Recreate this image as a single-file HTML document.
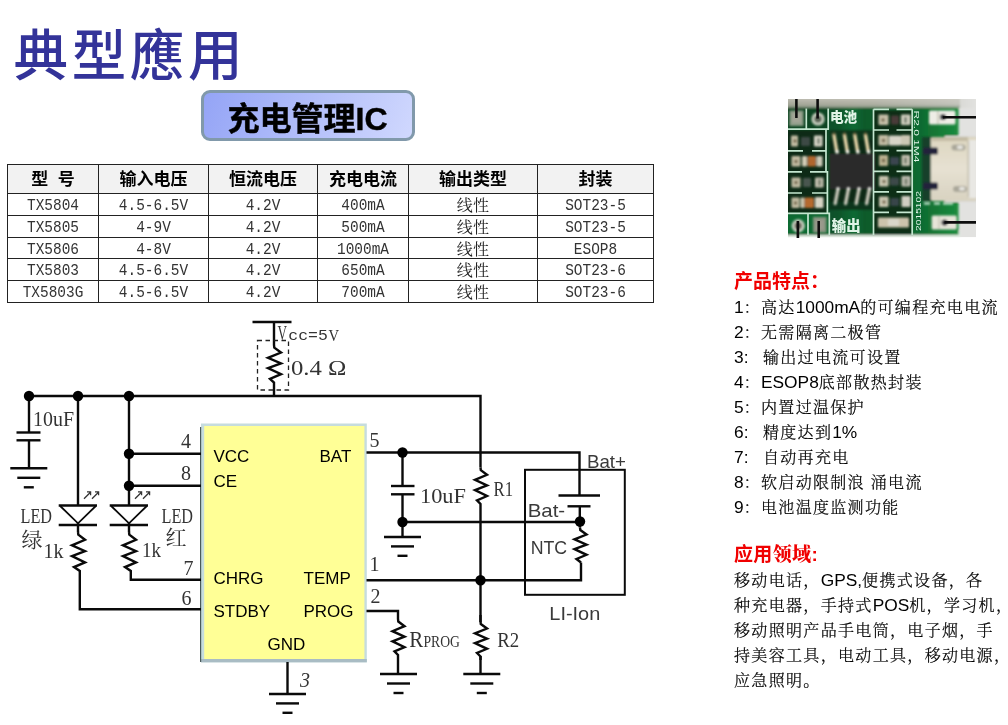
<!DOCTYPE html>
<html lang="zh">
<head>
<meta charset="utf-8">
<title>典型應用 - 充电管理IC</title>
<style>
html,body{margin:0;padding:0;background:#fff;}
body{width:1008px;height:725px;position:relative;overflow:hidden;font-family:"Liberation Sans","Noto Sans CJK SC",sans-serif;color:#000;}
.abs{position:absolute;white-space:nowrap;}
body>*{will-change:opacity;}
#title{left:13.6px;top:17.2px;font-size:54.5px;line-height:80px;color:#333399;font-family:"Liberation Sans","Noto Sans CJK TC","Noto Sans CJK SC",sans-serif;font-weight:500;letter-spacing:3.6px;}
#badge{left:200.5px;top:89.5px;width:208px;height:45px;border:3px solid #8199ab;border-radius:9px;background:linear-gradient(112deg,#94a4f6 0%,#b2bef9 50%,#d0d8fe 100%);-webkit-text-stroke:0.45px #000;text-align:center;font-weight:700;font-size:32px;line-height:53px;color:#000;font-family:"Liberation Sans","Noto Sans CJK SC",sans-serif;}
table#spec{position:absolute;left:7px;top:164px;border-collapse:collapse;table-layout:fixed;width:647px;font-family:"Liberation Serif","Noto Serif CJK SC",serif;}
#spec td,#spec th{border:1px solid #222;padding:0;text-align:center;overflow:hidden;white-space:nowrap;}
#spec th{height:28px;background:#f2f2f2;font-family:"Liberation Sans","Noto Sans CJK SC",sans-serif;font-weight:700;font-size:17px;line-height:28px;}
#spec td{height:20.75px;font-size:17.3px;line-height:20px;color:#222;font-weight:400;vertical-align:top;}
#spec .m{display:block;height:20px;font-family:"Liberation Mono",monospace;font-size:14.45px;line-height:20px;transform:translateY(1.2px) scaleY(1.2);color:#333;}
#spec .c{display:block;height:20px;font-size:16px;line-height:20px;transform:translateY(2.2px);letter-spacing:0.3px;}
#spec th span{position:relative;top:1px;}
.sec{color:#f00000;font-weight:700;font-size:19px;line-height:24px;font-family:"Liberation Sans","Noto Sans CJK SC",sans-serif;}
.li{font-size:16px;letter-spacing:1.33px;line-height:25px;font-weight:300;-webkit-text-stroke:0.22px #000;margin-top:-0.6px;font-family:"Liberation Sans","Noto Serif CJK SC",serif;color:#000;left:734px;}
.li.p{font-size:16px;letter-spacing:1.33px;}
.li .l{font-size:17.33px;letter-spacing:0;font-weight:400;-webkit-text-stroke:0;}
.li.p .l{font-size:17.33px;}
.ck{font-family:"Liberation Serif","Noto Serif CJK SC",serif;fill:#333;}
.sa{font-family:"Liberation Sans",sans-serif;fill:#000;}
.ts{font-family:"Liberation Sans",sans-serif;fill:#3a3a3a;}
</style>
</head>
<body>
<div id="title" class="abs">典型應用</div>
<div id="badge" class="abs">充电管理IC</div>

<table id="spec">
<colgroup><col style="width:91px"><col style="width:110px"><col style="width:109px"><col style="width:91px"><col style="width:129px"><col style="width:116px"></colgroup>
<tr><th><span>型&nbsp;&nbsp;号</span></th><th><span>输入电压</span></th><th><span>恒流电压</span></th><th><span>充电电流</span></th><th><span>输出类型</span></th><th><span>封装</span></th></tr>
<tr><td><span class="m">TX5804</span></td><td><span class="m">4.5-6.5V</span></td><td><span class="m">4.2V</span></td><td><span class="m">400mA</span></td><td><span class="c">线性</span></td><td><span class="m">SOT23-5</span></td></tr>
<tr><td><span class="m">TX5805</span></td><td><span class="m">4-9V</span></td><td><span class="m">4.2V</span></td><td><span class="m">500mA</span></td><td><span class="c">线性</span></td><td><span class="m">SOT23-5</span></td></tr>
<tr><td><span class="m">TX5806</span></td><td><span class="m">4-8V</span></td><td><span class="m">4.2V</span></td><td><span class="m">1000mA</span></td><td><span class="c">线性</span></td><td><span class="m">ESOP8</span></td></tr>
<tr><td><span class="m">TX5803</span></td><td><span class="m">4.5-6.5V</span></td><td><span class="m">4.2V</span></td><td><span class="m">650mA</span></td><td><span class="c">线性</span></td><td><span class="m">SOT23-6</span></td></tr>
<tr><td><span class="m">TX5803G</span></td><td><span class="m">4.5-6.5V</span></td><td><span class="m">4.2V</span></td><td><span class="m">700mA</span></td><td><span class="c">线性</span></td><td><span class="m">SOT23-6</span></td></tr>
</table>

<svg class="abs" style="left:788px;top:99px" width="188" height="139" viewBox="788 99 188 139">
<defs>
<filter id="bl" x="-5%" y="-5%" width="110%" height="110%"><feGaussianBlur stdDeviation="0.8"/></filter>
<filter id="bl2" x="-5%" y="-5%" width="110%" height="110%"><feGaussianBlur stdDeviation="0.6"/></filter>
<linearGradient id="gtop" x1="0" y1="0" x2="1" y2="0"><stop offset="0" stop-color="#a6a799"/><stop offset="0.45" stop-color="#b3b4a8"/><stop offset="0.8" stop-color="#d0d0ca"/><stop offset="1" stop-color="#e4e4e2"/></linearGradient>
<linearGradient id="ggreen" x1="0" y1="0" x2="1" y2="0"><stop offset="0" stop-color="#0a4a24"/><stop offset="0.3" stop-color="#0a522a"/><stop offset="0.4" stop-color="#0e6a32"/><stop offset="0.46" stop-color="#0a5a2c"/><stop offset="0.78" stop-color="#0f6a30"/><stop offset="1" stop-color="#1b8c3e"/></linearGradient>
<linearGradient id="gusb" x1="0" y1="0" x2="0" y2="1"><stop offset="0" stop-color="#ddd6c0"/><stop offset="0.5" stop-color="#e6e1d2"/><stop offset="1" stop-color="#d8d2c0"/></linearGradient>
<linearGradient id="gtop2" x1="0" y1="0" x2="0" y2="1"><stop offset="0.3" stop-color="#c8c6bc" stop-opacity="0.7"/><stop offset="0.7" stop-color="#a8aa9c" stop-opacity="0.4"/><stop offset="1" stop-color="#6a8068" stop-opacity="0.7"/></linearGradient>
<clipPath id="cp"><rect x="788" y="99" width="188" height="138.3"/></clipPath>
</defs>
<g clip-path="url(#cp)">
<rect x="788" y="99" width="188" height="138.3" fill="#e2e2e0"/>
<g filter="url(#bl)">
<rect x="784" y="95" width="196" height="13" fill="url(#gtop)"/>
<rect x="784" y="95" width="176" height="13" fill="url(#gtop2)"/>
<rect x="784" y="231.5" width="176" height="10" fill="#e3ece3"/>
<rect x="784" y="107.8" width="174.5" height="127" fill="url(#ggreen)"/>
<rect x="945" y="136" width="40" height="66" fill="#dcdcda"/>
<rect x="784" y="130" width="43" height="83" fill="#072c17"/>
<rect x="784" y="109" width="44" height="20" fill="#0c4520"/>
<rect x="784" y="214" width="45" height="21" fill="#116a30"/>
<rect x="873" y="110" width="39" height="124.5" fill="#082f18"/>
<rect x="829" y="130" width="44" height="80" fill="#0a351a"/><rect x="829" y="140" width="45" height="62" fill="#0b2a18"/>
<rect x="829.5" y="154" width="45.5" height="35" fill="#2a2a2c"/>
</g>
<g filter="url(#bl2)" stroke="#c4e6d0" stroke-width="1.7" fill="none">
<path d="M788,129.2 H828.2 V108.5 M806.3,108.5 V129"/>
<path d="M826,129.2 V171 M827.4,171 V213.2"/>
<path d="M788,150.8 H803 M812,150.8 H826"/>
<path d="M788,171.8 H802 M810,171.8 H827"/>
<path d="M788,193 H802 M812,193 H827"/>
<path d="M788,213.4 H829.3 V235 M808,213.4 V235"/>
<path d="M873.5,109.3 V235 M912.2,109.3 V235 M873.5,109.3 H889 M896.5,109.3 H912.2"/>
<path d="M873,130.0 H889 M896.5,130.0 H912.2"/>
<path d="M873,150.7 H889 M896.5,150.7 H912.2"/>
<path d="M873,171.3 H889 M896.5,171.3 H912.2"/>
<path d="M873,191.8 H889 M896.5,191.8 H912.2"/>
<path d="M873,212.3 H889 M896.5,212.3 H912.2"/>
</g>
<g filter="url(#bl)">
<rect x="789.5" y="110.5" width="14" height="15.5" fill="#8c9b86"/>
<rect x="792" y="113" width="9" height="10" fill="#a3a596"/>
<circle cx="818" cy="119" r="5.2" fill="#5a6454" stroke="#c9d1c1" stroke-width="2.8"/>
<circle cx="798.2" cy="225.8" r="5.2" fill="#6a6458" stroke="#c9d1c1" stroke-width="2.8"/>
<rect x="813" y="217" width="13.5" height="15.7" fill="#86937f"/>
<rect x="815.5" y="219.5" width="8.5" height="10.5" fill="#9a9a8c"/>
<rect x="791.0" y="135.5" width="7.0" height="11.0" rx="1" fill="#c3bda4"/>
<rect x="801.0" y="137.0" width="9.0" height="9.0" rx="1" fill="#3c4a44"/>
<rect x="814.0" y="135.5" width="8.5" height="11.0" rx="1" fill="#d8d6c8"/>
<rect x="791.5" y="156.0" width="9.0" height="10.5" rx="1" fill="#c2bba2"/>
<rect x="802.0" y="156.0" width="5.0" height="10.5" rx="1" fill="#d1cbb5"/>
<rect x="807.5" y="156.0" width="8.5" height="10.5" rx="1" fill="#b0662f"/>
<rect x="816.5" y="156.0" width="6.0" height="10.5" rx="1" fill="#cfcbba"/>
<rect x="791.5" y="177.5" width="9.0" height="10.0" rx="1" fill="#c0baa2"/>
<rect x="803.0" y="178.0" width="8.0" height="9.0" rx="1" fill="#4a5650"/>
<rect x="815.0" y="177.5" width="8.5" height="10.0" rx="1" fill="#c6c3b2"/>
<rect x="791.5" y="197.5" width="8.0" height="10.5" rx="1" fill="#c2bba2"/>
<rect x="800.5" y="197.5" width="4.0" height="10.5" rx="1" fill="#d0c9b2"/>
<rect x="804.5" y="197.5" width="9.5" height="10.5" rx="1" fill="#b5692d"/>
<rect x="815.0" y="197.0" width="8.5" height="11.0" rx="1" fill="#d8d4c5"/>
<rect x="878.5" y="114.5" width="10.0" height="10.5" rx="1" fill="#c6c0a9"/>
<rect x="891.0" y="115.5" width="8.0" height="9.0" rx="1" fill="#4a3a38"/>
<rect x="901.0" y="114.5" width="9.5" height="10.5" rx="1" fill="#d1cfc0"/>
<rect x="878.5" y="135.0" width="10.0" height="10.5" rx="1" fill="#c3bda5"/>
<rect x="889.0" y="135.5" width="12.0" height="10.0" rx="1" fill="#d7d4c7"/>
<rect x="901.0" y="135.0" width="9.5" height="10.5" rx="1" fill="#cbc7b4"/>
<rect x="879.0" y="155.0" width="9.0" height="11.0" rx="1" fill="#bab190"/>
<rect x="890.0" y="157.0" width="9.0" height="8.0" rx="1" fill="#3a4450"/>
<rect x="901.5" y="155.0" width="8.5" height="11.0" rx="1" fill="#c6c3b2"/>
<rect x="879.0" y="176.0" width="9.5" height="10.5" rx="1" fill="#c9c6b1"/>
<rect x="890.0" y="177.5" width="9.0" height="8.0" rx="1" fill="#3d4a4a"/>
<rect x="901.5" y="176.0" width="9.0" height="10.5" rx="1" fill="#c0c0b2"/>
<rect x="879.0" y="196.5" width="9.5" height="10.5" rx="1" fill="#cbc6b1"/>
<rect x="890.5" y="198.0" width="8.5" height="8.0" rx="1" fill="#39444a"/>
<rect x="901.5" y="196.0" width="9.0" height="11.0" rx="1" fill="#d1cfc3"/>
<rect x="878.0" y="217.5" width="31.0" height="10.0" rx="1" fill="#ccc3ac"/>
<rect x="888.0" y="219.0" width="11.0" height="7.0" rx="1" fill="#dad7ca"/>
<circle cx="795.0" cy="141.0" r="1.7" fill="#5a4a2a" opacity="0.85"/>
<circle cx="796.0" cy="161.5" r="1.7" fill="#5a4a2a" opacity="0.85"/>
<circle cx="796.0" cy="182.5" r="1.7" fill="#5a4a2a" opacity="0.85"/>
<circle cx="795.5" cy="203.0" r="1.7" fill="#5a4a2a" opacity="0.85"/>
<circle cx="883.0" cy="120.0" r="1.7" fill="#5a4a2a" opacity="0.85"/>
<circle cx="883.5" cy="140.5" r="1.7" fill="#5a4a2a" opacity="0.85"/>
<circle cx="883.5" cy="160.5" r="1.7" fill="#5a4a2a" opacity="0.85"/>
<circle cx="884.0" cy="181.5" r="1.7" fill="#5a4a2a" opacity="0.85"/>
<circle cx="884.0" cy="202.0" r="1.7" fill="#5a4a2a" opacity="0.85"/>
<rect x="817.0" y="138.0" width="3" height="6" fill="#3a4a3a" opacity="0.55"/>
<rect x="818.0" y="179.5" width="3" height="6" fill="#3a4a3a" opacity="0.55"/>
<rect x="904.0" y="117.0" width="3" height="6" fill="#3a4a3a" opacity="0.55"/>
<rect x="904.0" y="157.5" width="3" height="6" fill="#3a4a3a" opacity="0.55"/>
<rect x="904.5" y="178.5" width="3" height="6" fill="#3a4a3a" opacity="0.55"/>
<path d="M833.9,134.5 L836.7,151" stroke="#e6d4a8" stroke-width="3.4" stroke-linecap="round"/>
<circle cx="837.1" cy="151.8" r="1.9" fill="#f6f4ee"/>
<circle cx="833.9" cy="134" r="1.3" fill="#6a5020"/>
<path d="M844.4,134.5 L847.2,151" stroke="#e6d4a8" stroke-width="3.4" stroke-linecap="round"/>
<circle cx="847.6" cy="151.8" r="1.9" fill="#f6f4ee"/>
<circle cx="844.4" cy="134" r="1.3" fill="#6a5020"/>
<path d="M854.7,134.5 L857.5,151" stroke="#e6d4a8" stroke-width="3.4" stroke-linecap="round"/>
<circle cx="857.9" cy="151.8" r="1.9" fill="#f6f4ee"/>
<circle cx="854.7" cy="134" r="1.3" fill="#6a5020"/>
<path d="M865.4,134.5 L868.2,151" stroke="#e6d4a8" stroke-width="3.4" stroke-linecap="round"/>
<circle cx="868.6" cy="151.8" r="1.9" fill="#f6f4ee"/>
<circle cx="865.4" cy="134" r="1.3" fill="#6a5020"/>
<circle cx="838.0" cy="189" r="1.9" fill="#eeede8"/>
<path d="M837.6,191 L835.2,203.5" stroke="#c9c8ba" stroke-width="3.4" stroke-linecap="round"/>
<circle cx="848.4" cy="189" r="1.9" fill="#eeede8"/>
<path d="M848.0,191 L845.6,203.5" stroke="#c9c8ba" stroke-width="3.4" stroke-linecap="round"/>
<circle cx="859.0" cy="189" r="1.9" fill="#eeede8"/>
<path d="M858.6,191 L856.2,203.5" stroke="#c9c8ba" stroke-width="3.4" stroke-linecap="round"/>
<circle cx="869.4" cy="189" r="1.9" fill="#eeede8"/>
<path d="M869.0,191 L866.6,203.5" stroke="#c9c8ba" stroke-width="3.4" stroke-linecap="round"/>
<rect x="929" y="110.5" width="26.5" height="14" rx="1.5" fill="#eeede6"/>
<rect x="937" y="111" width="2" height="13" fill="#cfcdbf"/>
<circle cx="943" cy="117" r="3.1" fill="#2c2c30"/>
<rect x="931.7" y="215.5" width="25" height="14" rx="1.5" fill="#e6e4d8"/>
<rect x="938" y="216" width="2" height="13" fill="#cfcdbf"/>
<circle cx="944.6" cy="222.5" r="3.1" fill="#2c2c30"/>
<rect x="922" y="137" width="12" height="64" fill="#14402a"/>
<rect x="930.8" y="137" width="46" height="64" rx="2" fill="url(#gusb)"/>
<rect x="932" y="137" width="36" height="4" fill="#c3bca4"/>
<rect x="923" y="147.5" width="15" height="7" rx="1.5" fill="#20243a"/>
<rect x="923" y="182.5" width="15" height="7" rx="1.5" fill="#20243a"/>
<rect x="969" y="140" width="8" height="58" fill="#e9e8e4"/>
<rect x="967.5" y="141" width="1.6" height="56" fill="#c5c0b0"/>
<rect x="951.5" y="144.5" width="14" height="6" rx="3" fill="#aaa79a"/>
<rect x="957" y="145.5" width="6" height="3.6" rx="1.8" fill="#e9e8e2"/>
<rect x="953" y="186" width="14" height="6" rx="3" fill="#aaa79a"/>
<rect x="959" y="187" width="6" height="3.6" rx="1.8" fill="#e9e8e2"/>
<path d="M924,203.5 h6 m4,0 h6 m3,0 h10" stroke="#dcefe2" stroke-width="2.2"/>
</g>
<g filter="url(#bl2)" fill="#dff3e6" font-family="'Liberation Sans','Noto Sans CJK SC',sans-serif" font-weight="700">
<text x="830" y="122.3" font-size="13.6" font-weight="900">电池</text>
<text x="831.8" y="230.6" font-size="14.4" font-weight="900">输出</text>
<text transform="translate(914.2,110.5) rotate(90)" font-size="8" font-weight="400" textLength="52" lengthAdjust="spacingAndGlyphs">R2.0 1M4</text>
<text transform="translate(921.3,231) rotate(-90)" font-size="8" font-weight="400" textLength="40" lengthAdjust="spacingAndGlyphs">2015102</text>
</g>
</g>
<g filter="url(#bl2)" stroke="#0c0c0c" stroke-width="2.6" fill="none">
<path d="M796.4,99 V118 M817.6,99 V118.5"/>
<path d="M797.9,221 V238 M818.7,221 V238"/>
<path d="M943,117.2 H976 M944.6,222.4 H976"/>
</g>
</svg>
<svg class="abs" style="left:0;top:0" width="1008" height="725" viewBox="0 0 1008 725">
<rect x="201" y="423.5" width="165.8" height="238.8" fill="#c6dcde"/>
<rect x="201" y="659" width="165.8" height="3.3" fill="#a9bcc4"/>
<rect x="204.2" y="426" width="160.2" height="233" fill="#ffff96"/>
<line x1="200.6" y1="427" x2="200.6" y2="662" stroke="#4a5a5a" stroke-width="1.2"/>
<g fill="none" stroke="#0a0a0a" stroke-width="2.4" stroke-linecap="butt" stroke-linejoin="miter">
<polyline points="29,396 480.5,396 480.5,467.5"/>
<line x1="252.5" y1="322" x2="291.5" y2="322"/>
<polyline points="274,322 274.0,345.0 274.3,347.6 281.0,352.5 268.0,357.8 281.0,363.4 268.0,368.2 281.0,374.2 270.0,378.8 274.0,382.5 274,396"/>
<line x1="29" y1="396" x2="29" y2="432.5"/>
<line x1="16.5" y1="432.5" x2="40.5" y2="432.5"/>
<line x1="16.5" y1="440.3" x2="40.5" y2="440.3"/>
<line x1="29" y1="440.3" x2="29" y2="468"/>
<line x1="10.3" y1="468.3" x2="47.3" y2="468.3"/><line x1="17.3" y1="477.8" x2="40.3" y2="477.8"/><line x1="23.8" y1="487.3" x2="33.8" y2="487.3"/>
<path d="M78,396 V505.5 M78,522 V532"/>
<path d="M58.7,505.5 H97"/>
<path d="M60.2,506 L78,523.3 L95.8,506" stroke-width="1.8"/>
<line x1="58.7" y1="525" x2="97" y2="525"/>
<polyline points="78.0,532.0 78.3,534.7 85.0,539.8 72.0,545.3 85.0,551.1 72.0,556.2 85.0,562.4 74.0,567.1 79.8,571.0 79.8,609.3 201,609.3"/>
<path d="M129,396 V505.5 M129,522 V532"/>
<line x1="129" y1="453.8" x2="201" y2="453.8"/>
<line x1="129" y1="485.8" x2="201" y2="485.8"/>
<path d="M109.7,505.5 H148"/>
<path d="M111.2,506 L129,523.3 L146.8,506" stroke-width="1.8"/>
<line x1="109.7" y1="525" x2="148" y2="525"/>
<polyline points="129.0,532.0 129.3,534.7 136.0,539.8 123.0,545.3 136.0,551.1 123.0,556.2 136.0,562.4 125.0,567.1 130.8,571.0 130.8,579.7 201,579.7"/>
<line x1="287.5" y1="662" x2="287.5" y2="694"/>
<line x1="269.0" y1="694.0" x2="306.0" y2="694.0"/><line x1="276.0" y1="703.4" x2="299.0" y2="703.4"/><line x1="282.5" y1="712.8" x2="292.5" y2="712.8"/>
<polyline points="366.5,452.5 579.5,452.5 579.5,495.5"/>
<line x1="402.5" y1="452.5" x2="402.5" y2="486"/>
<line x1="391" y1="486" x2="414.5" y2="486"/>
<line x1="391" y1="494.3" x2="414.5" y2="494.3"/>
<line x1="402.5" y1="494.3" x2="402.5" y2="537"/>
<line x1="384.0" y1="537.0" x2="421.0" y2="537.0"/><line x1="391.0" y1="546.4" x2="414.0" y2="546.4"/><line x1="397.5" y1="555.8" x2="407.5" y2="555.8"/>
<line x1="402.5" y1="522" x2="580" y2="522"/>
<polyline points="480.5,467.5 480.8,470.1 487.0,474.8 475.0,479.9 487.0,485.4 475.0,490.1 487.0,496.0 477.0,500.4 480.5,504.0 480.5,674"/>
<polyline points="366.5,580.2 581,580.2 581,562.5"/>
<line x1="558.5" y1="495.5" x2="600" y2="495.5"/>
<line x1="567.5" y1="506.3" x2="590.5" y2="506.3"/>
<line x1="579.8" y1="506.3" x2="579.8" y2="527.5"/>
<polyline points="580.0,527.5 580.3,530.0 586.5,534.5 574.5,539.4 586.5,544.6 574.5,549.2 586.5,554.8 576.5,559.0 581.0,562.5"/>
<line x1="463.3" y1="674.0" x2="500.3" y2="674.0"/><line x1="470.3" y1="683.5" x2="493.3" y2="683.5"/><line x1="476.8" y1="693.0" x2="486.8" y2="693.0"/>
<polyline points="366.5,611 398,611 398,619 398.0,619.0 398.3,621.5 404.5,626.2 392.5,631.2 404.5,636.6 392.5,641.3 404.5,647.1 394.5,651.4 398.0,655.0 398,674"/>
<line x1="380.0" y1="674.0" x2="417.0" y2="674.0"/><line x1="387.0" y1="683.5" x2="410.0" y2="683.5"/><line x1="393.5" y1="693.0" x2="403.5" y2="693.0"/>
</g>
<rect x="472" y="622" width="17" height="34" fill="#fff"/>
<polyline points="480.5,615 480.5,621.5 480.8,624.0 487.0,628.5 475.0,633.4 487.0,638.6 475.0,643.2 487.0,648.8 477.0,653.0 480.5,656.5 480.5,660" fill="none" stroke="#0a0a0a" stroke-width="2.4"/>
<rect x="525" y="469.8" width="99.8" height="125" fill="none" stroke="#0a0a0a" stroke-width="2"/>
<rect x="257.5" y="340.5" width="31" height="49.5" fill="none" stroke="#222" stroke-width="1.3" stroke-dasharray="4.5,3.5"/>
<circle cx="29.0" cy="396.0" r="5.2" fill="#000" stroke="none"/>
<circle cx="78.0" cy="396.0" r="5.2" fill="#000" stroke="none"/>
<circle cx="129.0" cy="396.0" r="5.2" fill="#000" stroke="none"/>
<circle cx="129.0" cy="453.8" r="5.2" fill="#000" stroke="none"/>
<circle cx="129.0" cy="485.8" r="5.2" fill="#000" stroke="none"/>
<circle cx="402.5" cy="452.5" r="5.2" fill="#000" stroke="none"/>
<circle cx="402.5" cy="522.0" r="5.2" fill="#000" stroke="none"/>
<circle cx="480.5" cy="580.2" r="5.2" fill="#000" stroke="none"/>
<circle cx="580.0" cy="521.5" r="5.2" fill="#000" stroke="none"/>
<g fill="none" stroke="#333" stroke-width="1.25" transform="translate(0,-1.3)">
<path d="M84,500 L91,493 M87,493.2 h3.6 v3.4"/>
<path d="M92,500 L99,493 M95,493.2 h3.6 v3.4"/>
</g>
<g fill="none" stroke="#333" stroke-width="1.25" transform="translate(0,-1.3)">
<path d="M135,500 L142,493 M138,493.2 h3.6 v3.4"/>
<path d="M143,500 L150,493 M146,493.2 h3.6 v3.4"/>
</g>
<text x="33.0" y="426.0" font-size="21.0" class="ck" textLength="41.0" lengthAdjust="spacingAndGlyphs">10uF</text>
<text x="20.5" y="523.0" font-size="21.0" class="ck" textLength="31.5" lengthAdjust="spacingAndGlyphs">LED</text>
<text x="21.5" y="547.0" font-size="21.0" class="ck">绿</text>
<text x="43.5" y="558.2" font-size="21.0" class="ck" textLength="20.0" lengthAdjust="spacingAndGlyphs">1k</text>
<text x="161.5" y="523.0" font-size="21.0" class="ck" textLength="31.5" lengthAdjust="spacingAndGlyphs">LED</text>
<text x="165.5" y="545.0" font-size="21.0" class="ck">红</text>
<text x="142.0" y="556.8" font-size="21.0" class="ck" textLength="19.0" lengthAdjust="spacingAndGlyphs">1k</text>
<text x="181.0" y="448.2" font-size="20.0" class="ck">4</text>
<text x="181.0" y="480.4" font-size="20.0" class="ck">8</text>
<text x="183.5" y="575.0" font-size="20.0" class="ck">7</text>
<text x="181.5" y="604.5" font-size="20.0" class="ck">6</text>
<text x="369.5" y="447.0" font-size="20.0" class="ck">5</text>
<text x="369.5" y="571.0" font-size="20.0" class="ck">1</text>
<text x="370.5" y="603.2" font-size="20.0" class="ck">2</text>
<text x="300.0" y="687.0" font-size="20.0" class="ck" font-style="italic">3</text>
<text x="277.5" y="340.3" class="ck"><tspan font-size="20" textLength="9.5" lengthAdjust="spacingAndGlyphs">V</tspan><tspan x="288.3" font-size="15.5" font-family="Liberation Mono, monospace" textLength="39.5" lengthAdjust="spacingAndGlyphs">cc=5</tspan><tspan x="328.5" dy="0.5" font-size="17.5" textLength="10.5" lengthAdjust="spacingAndGlyphs">V</tspan></text>
<text x="291.0" y="375.3" font-size="21.0" class="ck" textLength="55.5" lengthAdjust="spacingAndGlyphs">0.4 Ω</text>
<text x="420.0" y="503.3" font-size="21.0" class="ck" textLength="46.0" lengthAdjust="spacingAndGlyphs">10uF</text>
<text x="493.5" y="495.5" font-size="21.0" class="ck" textLength="19.5" lengthAdjust="spacingAndGlyphs">R1</text>
<text x="497.3" y="647.2" font-size="21.0" class="ck" textLength="22.0" lengthAdjust="spacingAndGlyphs">R2</text>
<text x="409.3" y="647.3" font-size="24" class="ck"><tspan textLength="14" lengthAdjust="spacingAndGlyphs">R</tspan><tspan x="423.5" font-size="16.5" textLength="36.5" lengthAdjust="spacingAndGlyphs">PROG</tspan></text>
<text x="587.0" y="467.5" font-size="19.0" class="ts" textLength="39.0" lengthAdjust="spacingAndGlyphs">Bat+</text>
<text x="527.7" y="517.0" font-size="19.0" class="ts" textLength="37.5" lengthAdjust="spacingAndGlyphs">Bat-</text>
<text x="530.7" y="553.7" font-size="19.0" class="ts" textLength="36.5" lengthAdjust="spacingAndGlyphs">NTC</text>
<text x="549.3" y="620.3" font-size="19.0" class="ts" textLength="51.0" lengthAdjust="spacingAndGlyphs">LI-Ion</text>
<text x="213.5" y="461.5" font-size="17.0" class="sa">VCC</text>
<text x="213.5" y="487.0" font-size="17.0" class="sa">CE</text>
<text x="319.5" y="461.5" font-size="17.0" class="sa">BAT</text>
<text x="213.5" y="584.0" font-size="17.0" class="sa">CHRG</text>
<text x="303.5" y="584.0" font-size="17.0" class="sa">TEMP</text>
<text x="213.5" y="617.0" font-size="17.0" class="sa">STDBY</text>
<text x="303.5" y="617.0" font-size="17.0" class="sa">PROG</text>
<text x="267.5" y="650.0" font-size="17.0" class="sa">GND</text>
</svg>

<div class="abs sec" style="left:734px;top:270.3px;">产品特点：</div>
<div class="abs li" style="top:296px;"><span class="l">1</span>：高达<span class="l">1000mA</span>的可编程充电电流</div>
<div class="abs li" style="top:321px;"><span class="l">2</span>：无需隔离二极管</div>
<div class="abs li" style="top:346px;"><span class="l">3:&nbsp;&nbsp; </span>输出过电流可设置</div>
<div class="abs li" style="top:371px;"><span class="l">4</span>：<span class="l">ESOP8</span>底部散热封装</div>
<div class="abs li" style="top:396px;"><span class="l">5</span>：内置过温保护</div>
<div class="abs li" style="top:421px;"><span class="l">6:&nbsp;&nbsp; </span>精度达到<span class="l">1%</span></div>
<div class="abs li" style="top:446px;"><span class="l">7:&nbsp;&nbsp; </span>自动再充电</div>
<div class="abs li" style="top:471px;"><span class="l">8</span>：软启动限制浪 涌电流</div>
<div class="abs li" style="top:496px;"><span class="l">9</span>：电池温度监测功能</div>

<div class="abs sec" style="left:734px;top:542.5px;letter-spacing:0.35px;">应用<span style="font-family:'Liberation Serif','Noto Serif CJK SC',serif;font-weight:900;">领域</span>:</div>
<div class="abs li p" style="top:569px;">移动电话，<span class="l">GPS,</span>便携式设备，各</div>
<div class="abs li p" style="top:594px;">种充电器，手持式<span class="l">POS</span>机，学习机，</div>
<div class="abs li p" style="top:619px;">移动照明产品手电筒，电子烟，手</div>
<div class="abs li p" style="top:644px;">持美容工具，电动工具，移动电源，</div>
<div class="abs li p" style="top:669px;">应急照明。</div>
</body>
</html>
